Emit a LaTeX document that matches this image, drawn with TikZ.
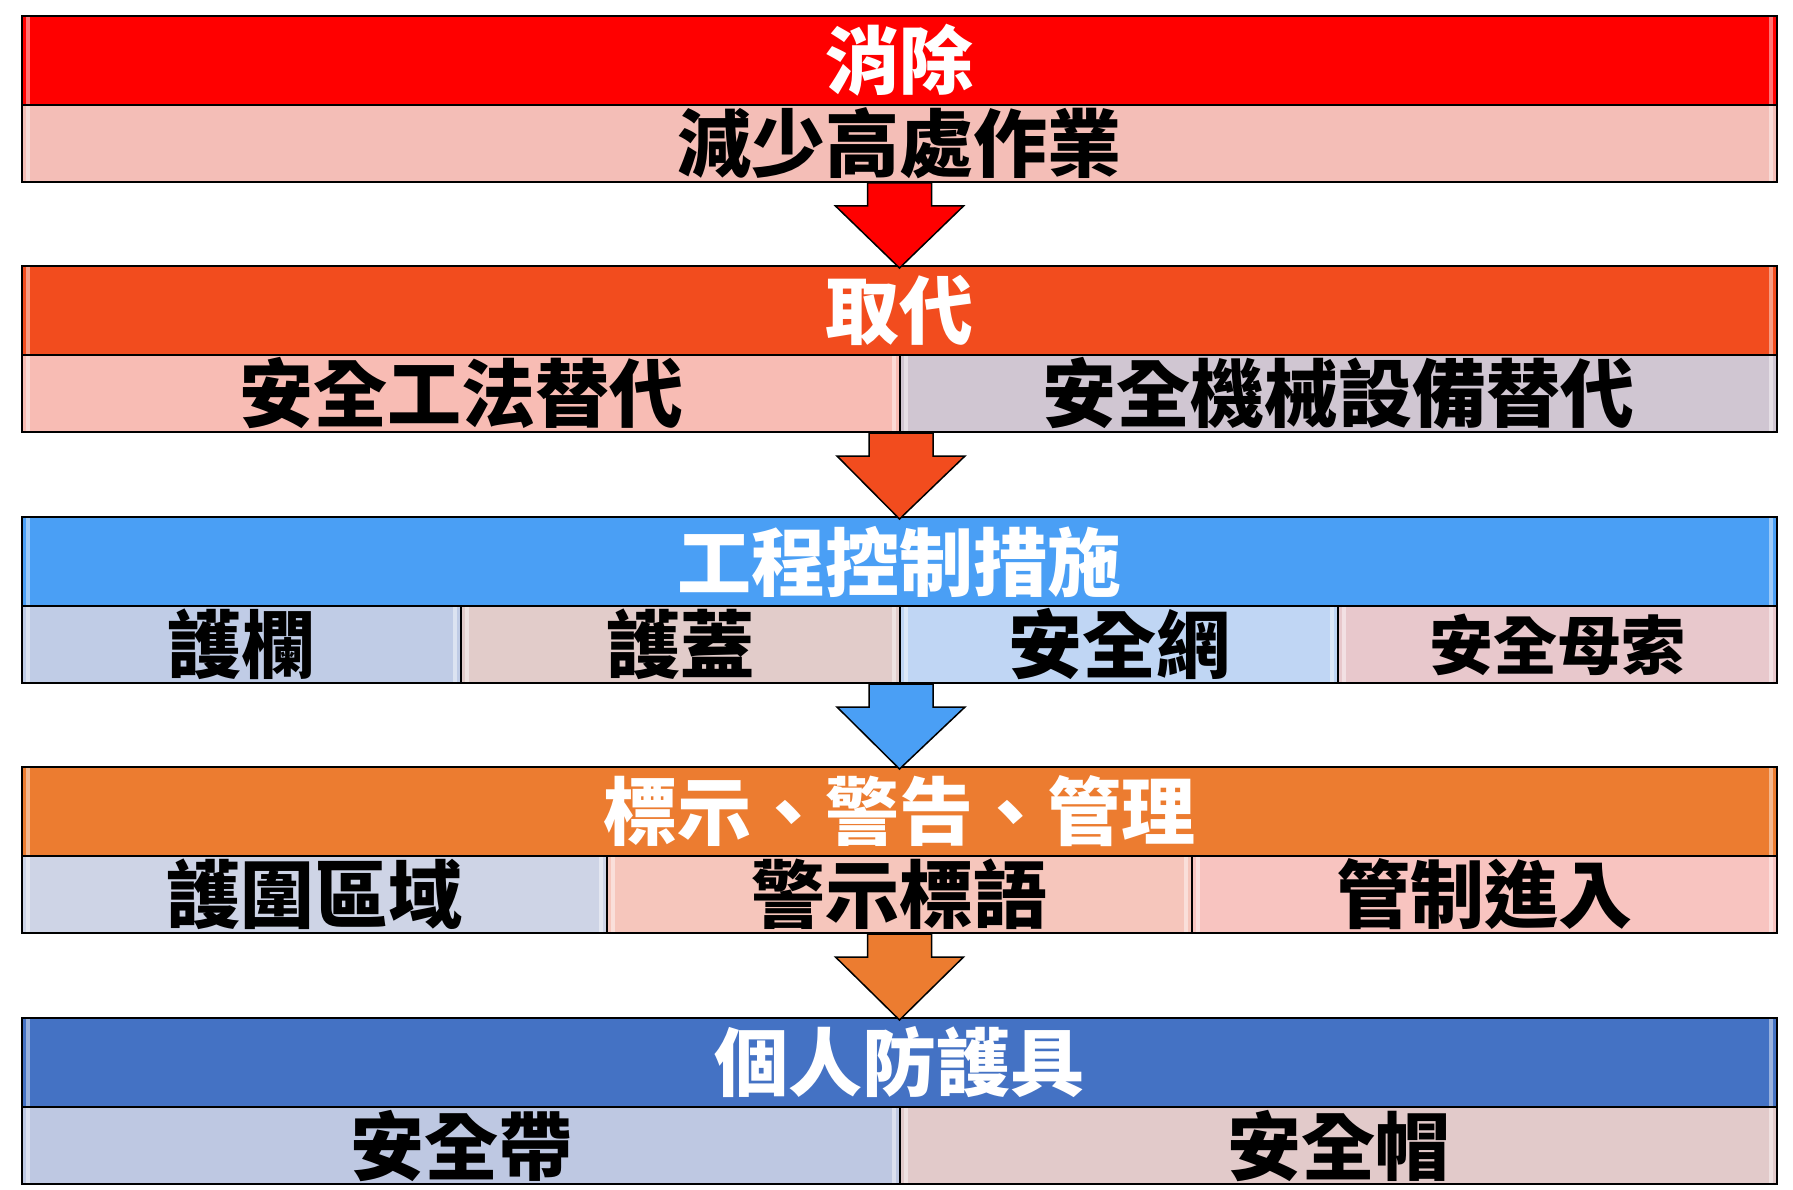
\documentclass[tikz,border=0pt]{standalone}
\usepackage{fontspec}
\setmainfont{Noto Sans CJK TC}
\usetikzlibrary{calc}

\definecolor{elimHdr}{RGB}{255,0,0}
\definecolor{elimSub}{RGB}{244,190,183}
\definecolor{substHdr}{RGB}{242,76,30}
\definecolor{substSubA}{RGB}{248,188,180}
\definecolor{substSubB}{RGB}{208,198,210}
\definecolor{engHdr}{RGB}{74,159,245}
\definecolor{engSubA}{RGB}{192,204,230}
\definecolor{engSubB}{RGB}{226,204,202}
\definecolor{engSubC}{RGB}{192,214,244}
\definecolor{engSubD}{RGB}{232,200,204}
\definecolor{admHdr}{RGB}{236,124,48}
\definecolor{admSubA}{RGB}{206,212,230}
\definecolor{admSubB}{RGB}{246,198,188}
\definecolor{admSubC}{RGB}{248,196,192}
\definecolor{ppeHdr}{RGB}{68,114,196}
\definecolor{ppeSubA}{RGB}{190,200,226}
\definecolor{ppeSubB}{RGB}{226,202,202}

\tikzset{
  cell/.style={draw=black, line width=2pt, rectangle, inner sep=0pt,
    font=\fontsize{74}{80}\selectfont\bfseries,
    path picture={
      \fill [white, opacity=0.45] ($(path picture bounding box.north west)+(4,8)$)
        rectangle ($(path picture bounding box.south west)+(8,-8)$);
      \fill [white, opacity=0.45] ($(path picture bounding box.north east)+(-8,8)$)
        rectangle ($(path picture bounding box.south east)+(-4,-8)$);
      \fill [white, opacity=0.25] ($(path picture bounding box.north west)+(0,1)$)
        rectangle ($(path picture bounding box.north east)+(0,6)$);
    }},
  hdr/.style={cell, minimum width=1755pt, minimum height=89pt, text=white},
  sub/.style={cell, minimum height=77pt, text=black},
  blockarrow/.style={draw=black, line width=1.5pt, line join=miter},
}

\begin{document}
\begin{tikzpicture}[x=1pt,y=1pt,yscale=-1]
\useasboundingbox (0,0) rectangle (1793,1190);

% Elimination
\node [hdr, fill=elimHdr] (h1) at (899.5,60.5) {消除};
\node [sub, fill=elimSub, minimum width=1755pt] (s1) at (899.5,143.5) {減少高處作業};

% Substitution
\node [hdr, fill=substHdr] (h2) at (899.5,310.5) {取代};
\node [sub, fill=substSubA, minimum width=878pt] (s2a) at (461,393.5) {安全工法替代};
\node [sub, fill=substSubB, minimum width=877pt] (s2b) at (1338.5,393.5) {安全機械設備替代};

% Engineering controls
\node [hdr, fill=engHdr] (h3) at (899.5,561.5) {工程控制措施};
\node [sub, fill=engSubA, minimum width=439pt] (s3a) at (241.5,644.5) {護欄};
\node [sub, fill=engSubB, minimum width=439pt] (s3b) at (680.5,644.5) {護蓋};
\node [sub, fill=engSubC, minimum width=438pt] (s3c) at (1119,644.5) {安全網};
\node [sub, fill=engSubD, minimum width=439pt, font=\fontsize{64}{70}\selectfont\bfseries] (s3d) at (1557.5,644.5) {安全母索};

% Administrative controls
\node [hdr, fill=admHdr] (h4) at (899.5,811.5) {標示、警告、管理};
\node [sub, fill=admSubA, minimum width=585pt] (s4a) at (314.5,894.5) {護圍區域};
\node [sub, fill=admSubB, minimum width=585pt] (s4b) at (899.5,894.5) {警示標語};
\node [sub, fill=admSubC, minimum width=585pt] (s4c) at (1484.5,894.5) {管制進入};

% PPE
\node [hdr, fill=ppeHdr] (h5) at (899.5,1062.5) {個人防護具};
\node [sub, fill=ppeSubA, minimum width=878pt] (s5a) at (461,1145.5) {安全帶};
\node [sub, fill=ppeSubB, minimum width=877pt] (s5b) at (1338.5,1145.5) {安全帽};

% block arrows between levels
\foreach \a/\b/\col in {s1.south/h2.north/elimHdr, s2a.south east/h3.north/substHdr,
                         s3b.south east/h4.north/engHdr, s4b.south/h5.north/admHdr}{
  \draw [blockarrow, fill=\col] ($(\a)+(-32,0)$) -- ($(\a)+(32,0)$) -- ($(\a)+(32,23)$)
    -- ($(\a)+(64,23)$) -- ($(\b)+(0,3)$) -- ($(\a)+(-64,23)$) -- ($(\a)+(-32,23)$) -- cycle;
}

\end{tikzpicture}
\end{document}
